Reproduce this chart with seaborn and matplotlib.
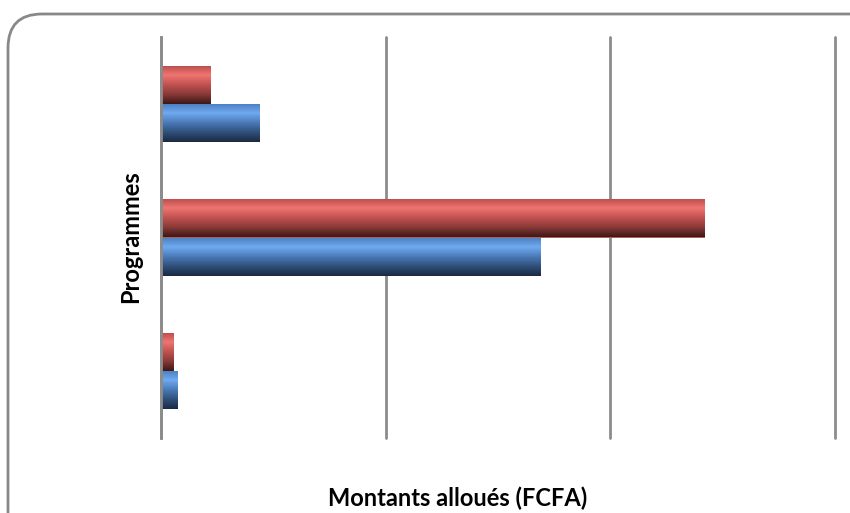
import numpy as np
import pandas as pd
import matplotlib
matplotlib.use("Agg")
import matplotlib.pyplot as plt
from matplotlib.colors import LinearSegmentedColormap
from matplotlib.patches import FancyBboxPatch
import seaborn as sns

# ===================== DATA =====================
programmes = ["Programme 1", "Programme 2", "Programme 3"]
serie_rouge = [0.22, 2.42, 0.055]   # série du haut (rouge)
serie_bleue = [0.44, 1.69, 0.075]   # série du bas (bleu)
series = ["Série 1", "Série 2"]
x_ticks = [0, 1, 2, 3]

df = pd.DataFrame({
    "programme": programmes * 2,
    "montant": serie_rouge + serie_bleue,
    "serie": [series[0]] * 3 + [series[1]] * 3,
})

sns.set_theme(style="white")
plt.rcParams["font.family"] = ["Lato", "DejaVu Sans"]

fig = plt.figure(figsize=(8.5, 5.13), dpi=100)
ax = fig.add_axes([161 / 850, 1 - 438 / 513, 674 / 850, 401 / 513])

sns.barplot(data=df, y="programme", x="montant", hue="serie", orient="h",
            palette=["#C0504D", "#4F81BD"], width=0.57, gap=0,
            linewidth=0, legend=False, ax=ax)

# degradé vertical type "Excel 2007"
cm_rouge = LinearSegmentedColormap.from_list(
    "r", [(0, "#B84C4A"), (0.25, "#F07572"), (0.5, "#C05250"),
          (0.75, "#8A3A38"), (1, "#3E1818")])
cm_bleu = LinearSegmentedColormap.from_list(
    "b", [(0, "#4A7EC0"), (0.25, "#70AAF0"), (0.5, "#4A7AB8"),
          (0.75, "#30507A"), (1, "#1A2A44")])
grad = np.linspace(0, 1, 64).reshape(-1, 1)
for i, patch in enumerate(ax.patches):
    cmap = cm_rouge if i < 3 else cm_bleu
    x0, y0 = patch.get_x(), patch.get_y()
    w, h = patch.get_width(), patch.get_height()
    im = ax.imshow(grad, cmap=cmap, aspect="auto", interpolation="bilinear",
                   extent=[x0, x0 + w, y0 + h, y0], zorder=patch.get_zorder() + 0.1)
    im.set_clip_path(patch)

ax.set_xlim(0, 3.0)
ax.set_ylim(2.5, -0.5)
ax.set_xticks(x_ticks)
ax.set_xticklabels([])
ax.set_yticks([])
ax.set_xlabel("")
ax.set_ylabel("")
ax.grid(True, axis="x", color="#8C8C8C", linewidth=2)
for gl in ax.get_xgridlines():
    gl.set_clip_on(False)
ax.set_axisbelow(True)
for s in ["top", "right", "bottom"]:
    ax.spines[s].set_visible(False)
ax.spines["left"].set_color("#8C8C8C")
ax.spines["left"].set_linewidth(2)
ax.tick_params(length=0)

# titres d'axes
fig.text(458 / 850, 1 - 498 / 513, "Montants alloués (FCFA)", ha="center", va="center",
         fontsize=17, fontweight="bold", color="black")
fig.text(131 / 850, 1 - 237 / 513, "Programmes", ha="center", va="center",
         rotation=90, fontsize=17, fontweight="bold", color="black")

# cadre arrondi (le bord droit et le bas sortent de l'image)
cadre = FancyBboxPatch((8 / 850, -0.1), 1.05, 1 - 14 / 513 + 0.1,
                       boxstyle="round,pad=0,rounding_size=0.04",
                       transform=fig.transFigure, fill=False, clip_on=False,
                       edgecolor="#888888", linewidth=2, mutation_aspect=850 / 513)
fig.patches.append(cadre)

fig.savefig("out.png", dpi=100)
